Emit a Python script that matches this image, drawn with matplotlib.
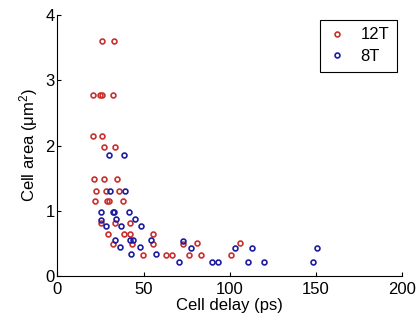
import matplotlib
matplotlib.use("Agg")
import matplotlib.pyplot as plt

plt.rcParams['font.family'] = ['Liberation Sans', 'DejaVu Sans']
plt.rcParams['mathtext.fontset'] = 'custom'
plt.rcParams['mathtext.rm'] = 'Liberation Sans'
plt.rcParams['mathtext.default'] = 'regular'

# 12T cells: delay (ps) and area (um^2)
delay_12t = [25.7, 33.0, 20.5, 25.0, 26.0, 32.4, 20.5, 26.0, 27.0, 33.5,
             21.2, 27.0, 34.8, 22.2, 28.0, 35.8, 21.8, 29.0, 29.8, 38.3,
             25.1, 33.2, 42.2, 29.3, 38.7, 42.2, 55.3, 32.4, 43.2, 55.7,
             49.8, 62.9, 66.7, 73.1, 76.5, 80.9, 83.3, 100.7, 106.1]
area_12t = [3.60, 3.60, 2.77, 2.77, 2.77, 2.77, 2.14, 2.14, 1.98, 1.98,
            1.48, 1.48, 1.48, 1.31, 1.31, 1.31, 1.15, 1.15, 1.15, 1.15,
            0.82, 0.82, 0.82, 0.65, 0.65, 0.65, 0.65, 0.49, 0.49, 0.49,
            0.32, 0.32, 0.32, 0.49, 0.32, 0.50, 0.32, 0.32, 0.50]

# 8T cells
delay_8t = [29.9, 38.5, 30.5, 39.2, 25.2, 32.0, 33.0, 41.3, 25.5, 34.2,
            45.2, 28.1, 36.9, 48.8, 33.2, 42.1, 43.9, 54.6, 36.3, 47.8,
            42.9, 57.4, 70.6, 73.1, 77.6, 90.0, 93.5, 103.2, 110.4, 112.9,
            120.2, 148.7, 150.7]
area_8t = [1.86, 1.86, 1.31, 1.31, 0.98, 0.98, 0.98, 0.98, 0.86, 0.87,
           0.87, 0.77, 0.77, 0.77, 0.55, 0.55, 0.55, 0.55, 0.44, 0.44,
           0.33, 0.33, 0.22, 0.54, 0.43, 0.22, 0.22, 0.43, 0.22, 0.43,
           0.22, 0.22, 0.43]

fig = plt.figure(figsize=(4.19, 3.23), dpi=100)
ax = fig.add_axes([0.137, 0.1455, 0.822, 0.808])

ax.plot(delay_12t, area_12t, linestyle='none', marker='o', markersize=3.5,
        markerfacecolor='none', markeredgecolor='#c8302e', markeredgewidth=1.2, label='12T')
ax.plot(delay_8t, area_8t, linestyle='none', marker='o', markersize=3.5,
        markerfacecolor='none', markeredgecolor='#1c1ca0', markeredgewidth=1.2, label='8T')

ax.set_xlim(0, 200)
ax.set_ylim(0, 4)
ax.set_xticks([0, 50, 100, 150, 200])
ax.set_yticks([0, 1, 2, 3, 4])
ax.spines['top'].set_visible(False)
ax.spines['right'].set_visible(False)
ax.tick_params(direction='in', length=3, labelsize=12)
ax.tick_params(axis='x', pad=4)
ax.tick_params(axis='y', pad=2)
ax.set_xlabel('Cell delay (ps)', fontsize=12, labelpad=1)
ax.set_ylabel('Cell area (μm$^\\mathregular{2}$)', fontsize=12, labelpad=4)

leg = ax.legend(loc='upper right', bbox_to_anchor=(0.985, 0.981), borderaxespad=0,
                fontsize=12, frameon=True, fancybox=False, edgecolor='black',
                framealpha=1, handlelength=1.2, handletextpad=0.8, borderpad=0.45,
                labelspacing=0.4)
leg.get_frame().set_linewidth(0.8)

fig.savefig('out.png', dpi=100)
